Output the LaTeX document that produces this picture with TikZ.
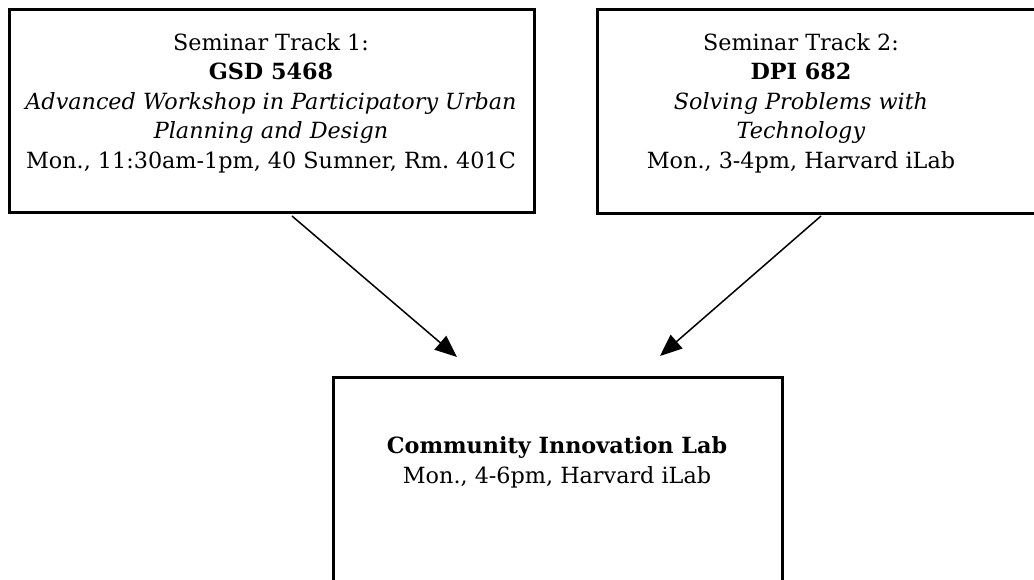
\documentclass[tikz,border=0pt]{standalone}
\usepackage{fontspec}
\setmainfont{DejaVu Serif}
\usetikzlibrary{arrows.meta}
\begin{document}
\begin{tikzpicture}[x=1pt,y=-1pt,
  box/.style={draw, line width=3pt, inner sep=0pt},
  label/.style={align=center, inner sep=0pt, anchor=base,
    font=\fontsize{22.3}{29.5}\selectfont},
  link/.style={line width=1.5pt, -{Triangle[length=22pt,width=18pt]}}]
  \clip (0,0) rectangle (1034,579);
  \fill[white] (0,0) rectangle (1034,579);

  % course boxes
  \node[box, minimum width=525pt, minimum height=203pt] (gsd) at (271.5,110.5) {};
  \node[box, minimum width=448pt, minimum height=204pt] (dpi) at (821,111) {};
  \node[box, minimum width=449pt, minimum height=240pt] (lab) at (557.5,497) {};

  % box texts (anchored at the baseline of the last line)
  \node[label] (gsdtext) at (271,168) {Seminar Track 1:\\\textbf{GSD 5468}\\
    \textit{Advanced Workshop in Participatory Urban}\\
    \textit{Planning and Design}\\
    Mon., 11:30am-1pm, 40 Sumner, Rm.\ 401C};
  \node[label] (dpitext) at (801,168) {Seminar Track 2:\\\textbf{DPI 682}\\
    \textit{Solving Problems with}\\
    \textit{Technology}\\
    Mon., 3-4pm, Harvard iLab};
  \node[label] (labtext) at (557,483) {\textbf{Community Innovation Lab}\\
    Mon., 4-6pm, Harvard iLab};

  % connectors
  \coordinate (gsdout) at (292,216);
  \coordinate (labin1) at (457,357);
  \coordinate (dpiout) at (821,216);
  \coordinate (labin2) at (660,356);
  \draw[link] (gsdout) -- (labin1);
  \draw[link] (dpiout) -- (labin2);
\end{tikzpicture}
\end{document}
